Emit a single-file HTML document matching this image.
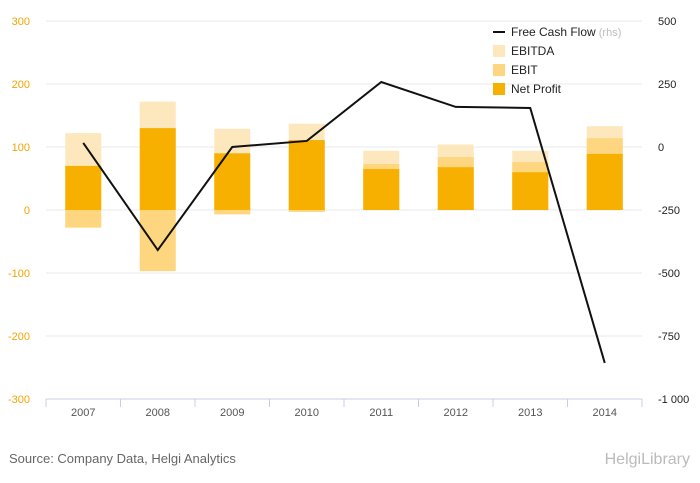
<!DOCTYPE html>
<html><head><meta charset="utf-8"><style>
body{margin:0;background:#fff;font-family:"Liberation Sans",sans-serif;}
#wrap{position:relative;width:700px;height:483px;overflow:hidden;}
svg text{font-family:"Liberation Sans",sans-serif;}
</style></head><body>
<div id="wrap">
<svg id="chart" width="700" height="483"></svg>
</div>
<script>
const categories=["2007","2008","2009","2010","2011","2012","2013","2014"];
const ebitda=[122,172,129,137,94,104,94,133];
const ebit=[-28,-97,-7,-3,73,84,76,114];
const netProfit=[70,130,90,111,65,68,60,89];
const fcf=[16,-409,0,24,258,159,155,-857];
const leftTicks=[300,200,100,0,-100,-200,-300];
const rightTicks=[500,250,0,-250,-500,-750,-1000];
const rightTickLabels=["500","250","0","-250","-500","-750","-1 000"];

const NS="http://www.w3.org/2000/svg";
const svg=document.getElementById('chart');
const X0=46,X1=642,YT=21,YB=399;
const yL=v=>210-(v)*0.63;
const yR=v=>YT+(500-v)/1500*(YB-YT);
const band=(X1-X0)/categories.length;
const xC=i=>X0+band*(i+0.5);
const BW=36;
function mk(t,a){const e=document.createElementNS(NS,t);for(const k in a)e.setAttribute(k,a[k]);svg.appendChild(e);return e;}

leftTicks.forEach(v=>{
  const g=mk('line',{x1:X0,x2:X1,y1:yL(v),y2:yL(v),stroke:'#e8e8e8','stroke-width':1});
  
  
  const t=mk('text',{x:30,y:yL(v)+4,'text-anchor':'end','font-size':11,fill:'#f0a500'});
  t.textContent=v;
  
  
});
rightTicks.forEach((v,i)=>{
  const t=mk('text',{x:658,y:yR(v)+4,'font-size':11,fill:'#222'});
  t.textContent=rightTickLabels[i];
  
  
});
const ax=mk('line',{x1:X0,x2:X1,y1:YB,y2:YB,stroke:'#c8cce8','stroke-width':1});


categories.forEach((c,i)=>{
  const tk=mk('line',{x1:X0+band*i,x2:X0+band*i,y1:YB,y2:YB+8,stroke:'#c8cce8'});
  
  
  const t=mk('text',{x:xC(i),y:416,'text-anchor':'middle','font-size':11,fill:'#555'});
  t.textContent=c;
  
  
});
const tkl=mk('line',{x1:X1,x2:X1,y1:YB,y2:YB+8,stroke:'#c8cce8'});



function bar(v,i,col,name){
  const y=Math.min(yL(v),yL(0)),h=Math.abs(yL(v)-yL(0));
  const r=mk('rect',{x:xC(i)-BW/2,y:y,width:BW,height:h,fill:col});
  
  
}
categories.forEach((c,i)=>{
  bar(ebitda[i],i,'#fde8bd','bar-ebitda-'+c);
  bar(ebit[i],i,'#fdd67f','bar-ebit-'+c);
  bar(netProfit[i],i,'#f8b000','bar-net-profit-'+c);
});
const pts=fcf.map((v,i)=>xC(i)+','+yR(v)).join(' ');
const pl=mk('polyline',{points:pts,fill:'none',stroke:'#111','stroke-width':2});



const leg=[["line","#111","Free Cash Flow"],["rect","#fde8bd","EBITDA"],["rect","#fdd67f","EBIT"],["rect","#f8b000","Net Profit"]];
leg.forEach((l,i)=>{
  const y=36+i*19;
  if(l[0]=="line"){const m=mk('line',{x1:493,x2:505,y1:y-4,y2:y-4,stroke:l[1],'stroke-width':2});}
  else{const m=mk('rect',{x:493,y:y-10,width:12,height:12,fill:l[1]});}
  const t=mk('text',{x:511,y:y,'font-size':12,fill:'#222'});
  t.textContent=l[2];
  if(i==0){const s=document.createElementNS(NS,'tspan');s.setAttribute('fill','#bbb');s.setAttribute('font-size','11');s.textContent=' (rhs)';t.appendChild(s);}
  
  
});
const src=mk('text',{x:9,y:463,'font-size':13,fill:'#666'});
src.textContent="Source: Company Data, Helgi Analytics";


const logo=mk('text',{x:690,y:464,'text-anchor':'end','font-size':16,fill:'#bbb'});
logo.textContent="HelgiLibrary";


</script>
</body></html>
